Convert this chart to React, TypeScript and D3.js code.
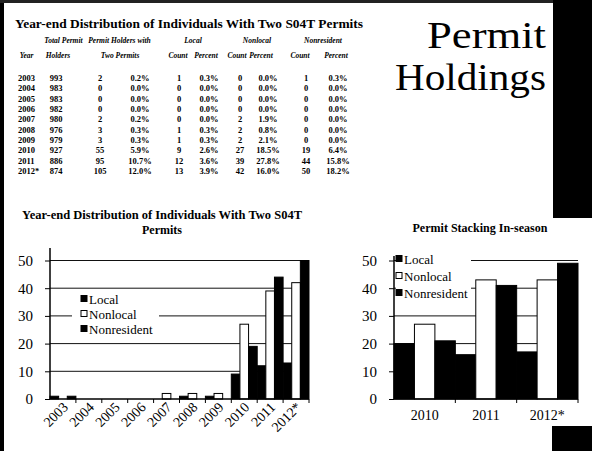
import React, { useEffect, useRef } from 'react';
import * as d3 from 'd3';

// table data
const tableYears = ['2003', '2004', '2005', '2006', '2007', '2008', '2009', '2010', '2011', '2012*'];
const totalHolders = [993, 983, 983, 982, 980, 976, 979, 927, 886, 874];
const twoPermitCount = [2, 0, 0, 0, 2, 3, 3, 55, 95, 105];
const twoPermitPct = ['0.2%', '0.0%', '0.0%', '0.0%', '0.2%', '0.3%', '0.3%', '5.9%', '10.7%', '12.0%'];
const localCount = [1, 0, 0, 0, 0, 1, 1, 9, 12, 13];
const localPct = ['0.3%', '0.0%', '0.0%', '0.0%', '0.0%', '0.3%', '0.3%', '2.6%', '3.6%', '3.9%'];
const nonlocalCount = [0, 0, 0, 0, 2, 2, 2, 27, 39, 42];
const nonlocalPct = ['0.0%', '0.0%', '0.0%', '0.0%', '1.9%', '0.8%', '2.1%', '18.5%', '27.8%', '16.0%'];
const nonresCount = [1, 0, 0, 0, 0, 0, 0, 19, 44, 50];
const nonresPct = ['0.3%', '0.0%', '0.0%', '0.0%', '0.0%', '0.0%', '0.0%', '6.4%', '15.8%', '18.2%'];

// in-season stacking chart
const seasonYears = ['2010', '2011', '2012*'];
const seasonLocal = [20, 16, 17];
const seasonNonlocal = [27, 43, 43];
const seasonNonres = [21, 41, 49];

const seriesNames = ['Local', 'Nonlocal', 'Nonresident'];
const seriesFill = ['#000', '#fff', '#000'];
const yTicks = [0, 10, 20, 30, 40, 50];

const SERIF = '"Liberation Serif", "DejaVu Serif", serif';

function drawBars(svg, opts) {
  const { cats, series, x0, x1, y0, y1, legend, rotate, axisTop } = opts;
  const x = d3.scaleBand().domain(cats).range([x0, x1]).padding(0);
  const inner = d3.scaleBand().domain(seriesNames).range([0, x.bandwidth()]).padding(0);
  const y = d3.scaleLinear().domain([0, 50]).range([y0, y1]);
  const g = svg.append('g');

  // grid lines
  g.selectAll('.grid')
    .data(yTicks.filter(t => t > 0))
    .enter().append('line')
    .attr('x1', x0).attr('x2', x1)
    .attr('y1', d => y(d)).attr('y2', d => y(d))
    .attr('stroke', '#111').attr('stroke-width', 1);

  // legend box hides part of the grid
  g.append('rect')
    .attr('x', legend.bx).attr('y', legend.by)
    .attr('width', legend.bw).attr('height', legend.bh)
    .attr('fill', '#fff');

  // bars
  series.forEach((vals, si) => {
    g.selectAll(`.bar-${si}`)
      .data(vals.map((v, i) => ({ cat: cats[i], v })).filter(d => d.v > 0))
      .enter().append('rect')
      .attr('x', d => x(d.cat) + inner(seriesNames[si]))
      .attr('y', d => y(d.v))
      .attr('width', inner.bandwidth())
      .attr('height', d => y(0) - y(d.v))
      .attr('fill', seriesFill[si])
      .attr('stroke', '#000')
      .attr('stroke-width', 1);
  });

  // y axis
  const ya = g.append('g')
    .attr('transform', `translate(${x0},0)`)
    .call(d3.axisLeft(y).tickValues(yTicks).tickSize(5).tickPadding(12).tickSizeOuter(0));
  ya.select('.domain').remove();
  ya.selectAll('text').attr('font-family', SERIF).attr('font-size', 15).attr('fill', '#000');
  g.append('line')
    .attr('x1', x0).attr('x2', x0).attr('y1', axisTop).attr('y2', y0)
    .attr('stroke', '#000').attr('stroke-width', 1.5);

  // x axis with ticks at category boundaries
  g.append('line')
    .attr('x1', x0).attr('x2', x1).attr('y1', y0).attr('y2', y0)
    .attr('stroke', '#000').attr('stroke-width', 1.5);
  g.selectAll('.xtick')
    .data(cats)
    .enter().append('line')
    .attr('x1', d => x(d) + x.bandwidth()).attr('x2', d => x(d) + x.bandwidth())
    .attr('y1', y0).attr('y2', y0 + 4)
    .attr('stroke', '#000');
  const labels = g.selectAll('.xlab')
    .data(cats)
    .enter().append('text')
    .attr('font-family', SERIF)
    .attr('fill', '#000')
    .text(d => d);
  if (rotate) {
    labels
      .attr('font-size', 14)
      .attr('text-anchor', 'end')
      .attr('transform', d => `translate(${x(d) + x.bandwidth() / 2 + 6},${y0 + 9}) rotate(-45)`);
  } else {
    labels
      .attr('font-size', 14)
      .attr('text-anchor', 'middle')
      .attr('x', d => x(d) + x.bandwidth() / 2)
      .attr('y', y0 + 21);
  }

  // legend entries
  seriesNames.forEach((name, i) => {
    const ly = legend.ty + i * legend.step;
    g.append('rect')
      .attr('x', legend.tx).attr('y', ly - 4.5)
      .attr('width', 6).attr('height', 6)
      .attr('fill', seriesFill[i]).attr('stroke', '#000');
    g.append('text')
      .attr('x', legend.tx + 8).attr('y', ly + 4)
      .attr('font-family', SERIF).attr('font-size', 13).attr('fill', '#000')
      .text(name);
  });
}

export default function App() {
  const svgRef = useRef(null);

  useEffect(() => {
    const svg = d3.select(svgRef.current);
    svg.selectAll('*').remove();

    // slide frame
    svg.append('rect').attr('x', 0).attr('y', 0).attr('width', 592).attr('height', 451).attr('fill', '#fff');
    svg.append('rect').attr('x', 0).attr('y', 0).attr('width', 4).attr('height', 451).attr('fill', '#000');
    svg.append('rect').attr('x', 0).attr('y', 0).attr('width', 592).attr('height', 3).attr('fill', '#222');
    svg.append('rect').attr('x', 553).attr('y', 0).attr('width', 39).attr('height', 218).attr('fill', '#000');
    svg.append('rect').attr('x', 552).attr('y', 426).attr('width', 40).attr('height', 25).attr('fill', '#000');

    // slide heading
    svg.append('text')
      .attr('x', 546).attr('y', 48).attr('text-anchor', 'end')
      .attr('font-family', SERIF).attr('font-size', 38).attr('fill', '#000')
      .attr('textLength', 119).attr('lengthAdjust', 'spacingAndGlyphs')
      .text('Permit');
    svg.append('text')
      .attr('x', 546).attr('y', 90).attr('text-anchor', 'end')
      .attr('font-family', SERIF).attr('font-size', 38).attr('fill', '#000')
      .attr('textLength', 151).attr('lengthAdjust', 'spacingAndGlyphs')
      .text('Holdings');

    // table
    svg.append('text')
      .attr('x', 15).attr('y', 28)
      .attr('font-family', SERIF).attr('font-size', 12.5).attr('font-weight', 'bold')
      .attr('textLength', 348).attr('lengthAdjust', 'spacingAndGlyphs')
      .text('Year-end Distribution of Individuals With Two S04T Permits');

    const head1 = [['Total Permit', 63.5], ['Permit Holders with', 119.5], ['Local', 193], ['Nonlocal', 257], ['Nonresident', 323]];
    const head2 = [['Year', 26.5], ['Holders', 58], ['Two Permits', 120], ['Count', 178], ['Percent', 206], ['Count', 237], ['Percent', 261], ['Count', 300], ['Percent', 336]];
    [[head1, 43], [head2, 58]].forEach(([row, yy]) => {
      svg.selectAll(null)
        .data(row)
        .enter().append('text')
        .attr('x', d => d[1]).attr('y', yy).attr('text-anchor', 'middle')
        .attr('font-family', SERIF).attr('font-size', 7.5).attr('font-style', 'italic').attr('font-weight', 'bold')
        .text(d => d[0]);
    });

    const cols = [
      { vals: totalHolders, x: 56 },
      { vals: twoPermitCount, x: 100 },
      { vals: twoPermitPct, x: 140 },
      { vals: localCount, x: 179 },
      { vals: localPct, x: 209 },
      { vals: nonlocalCount, x: 240 },
      { vals: nonlocalPct, x: 268 },
      { vals: nonresCount, x: 306 },
      { vals: nonresPct, x: 338 },
    ];
    const rowY = d3.scalePoint().domain(tableYears).range([81, 174]);
    tableYears.forEach(yr => {
      svg.append('text')
        .attr('x', 18).attr('y', rowY(yr))
        .attr('font-family', SERIF).attr('font-size', 8.5).attr('font-weight', 'bold')
        .text(yr);
    });
    cols.forEach(c => {
      svg.selectAll(null)
        .data(c.vals)
        .enter().append('text')
        .attr('x', c.x).attr('y', (d, i) => rowY(tableYears[i]))
        .attr('text-anchor', 'middle')
        .attr('font-family', SERIF).attr('font-size', 8.5).attr('font-weight', 'bold')
        .text(d => d);
    });

    // left chart
    svg.append('text')
      .attr('x', 22).attr('y', 219)
      .attr('font-family', SERIF).attr('font-size', 12).attr('font-weight', 'bold')
      .attr('textLength', 280).attr('lengthAdjust', 'spacingAndGlyphs')
      .text('Year-end Distribution of Individuals With Two S04T');
    svg.append('text')
      .attr('x', 162).attr('y', 234).attr('text-anchor', 'middle')
      .attr('font-family', SERIF).attr('font-size', 12).attr('font-weight', 'bold')
      .text('Permits');

    drawBars(svg, {
      cats: tableYears,
      series: [localCount, nonlocalCount, nonresCount],
      x0: 50, x1: 309, y0: 399, y1: 260.5, axisTop: 248,
      rotate: true,
      legend: { bx: 72, by: 291, bw: 87, bh: 47, tx: 81, ty: 300, step: 15 },
    });

    // right chart
    svg.append('text')
      .attr('x', 480).attr('y', 232).attr('text-anchor', 'middle')
      .attr('font-family', SERIF).attr('font-size', 11.5).attr('font-weight', 'bold')
      .attr('textLength', 135).attr('lengthAdjust', 'spacingAndGlyphs')
      .text('Permit Stacking In-season');

    drawBars(svg, {
      cats: seasonYears,
      series: [seasonLocal, seasonNonlocal, seasonNonres],
      x0: 394, x1: 578, y0: 399, y1: 260.5, axisTop: 256,
      rotate: false,
      legend: { bx: 396, by: 252, bw: 75, bh: 50, tx: 396, ty: 260, step: 17 },
    });
  }, []);

  return (
    <div style={{ position: 'absolute', left: 0, top: 0 }}>
      <svg ref={svgRef} width={592} height={451} style={{ display: 'block' }}></svg>
    </div>
  );
}
